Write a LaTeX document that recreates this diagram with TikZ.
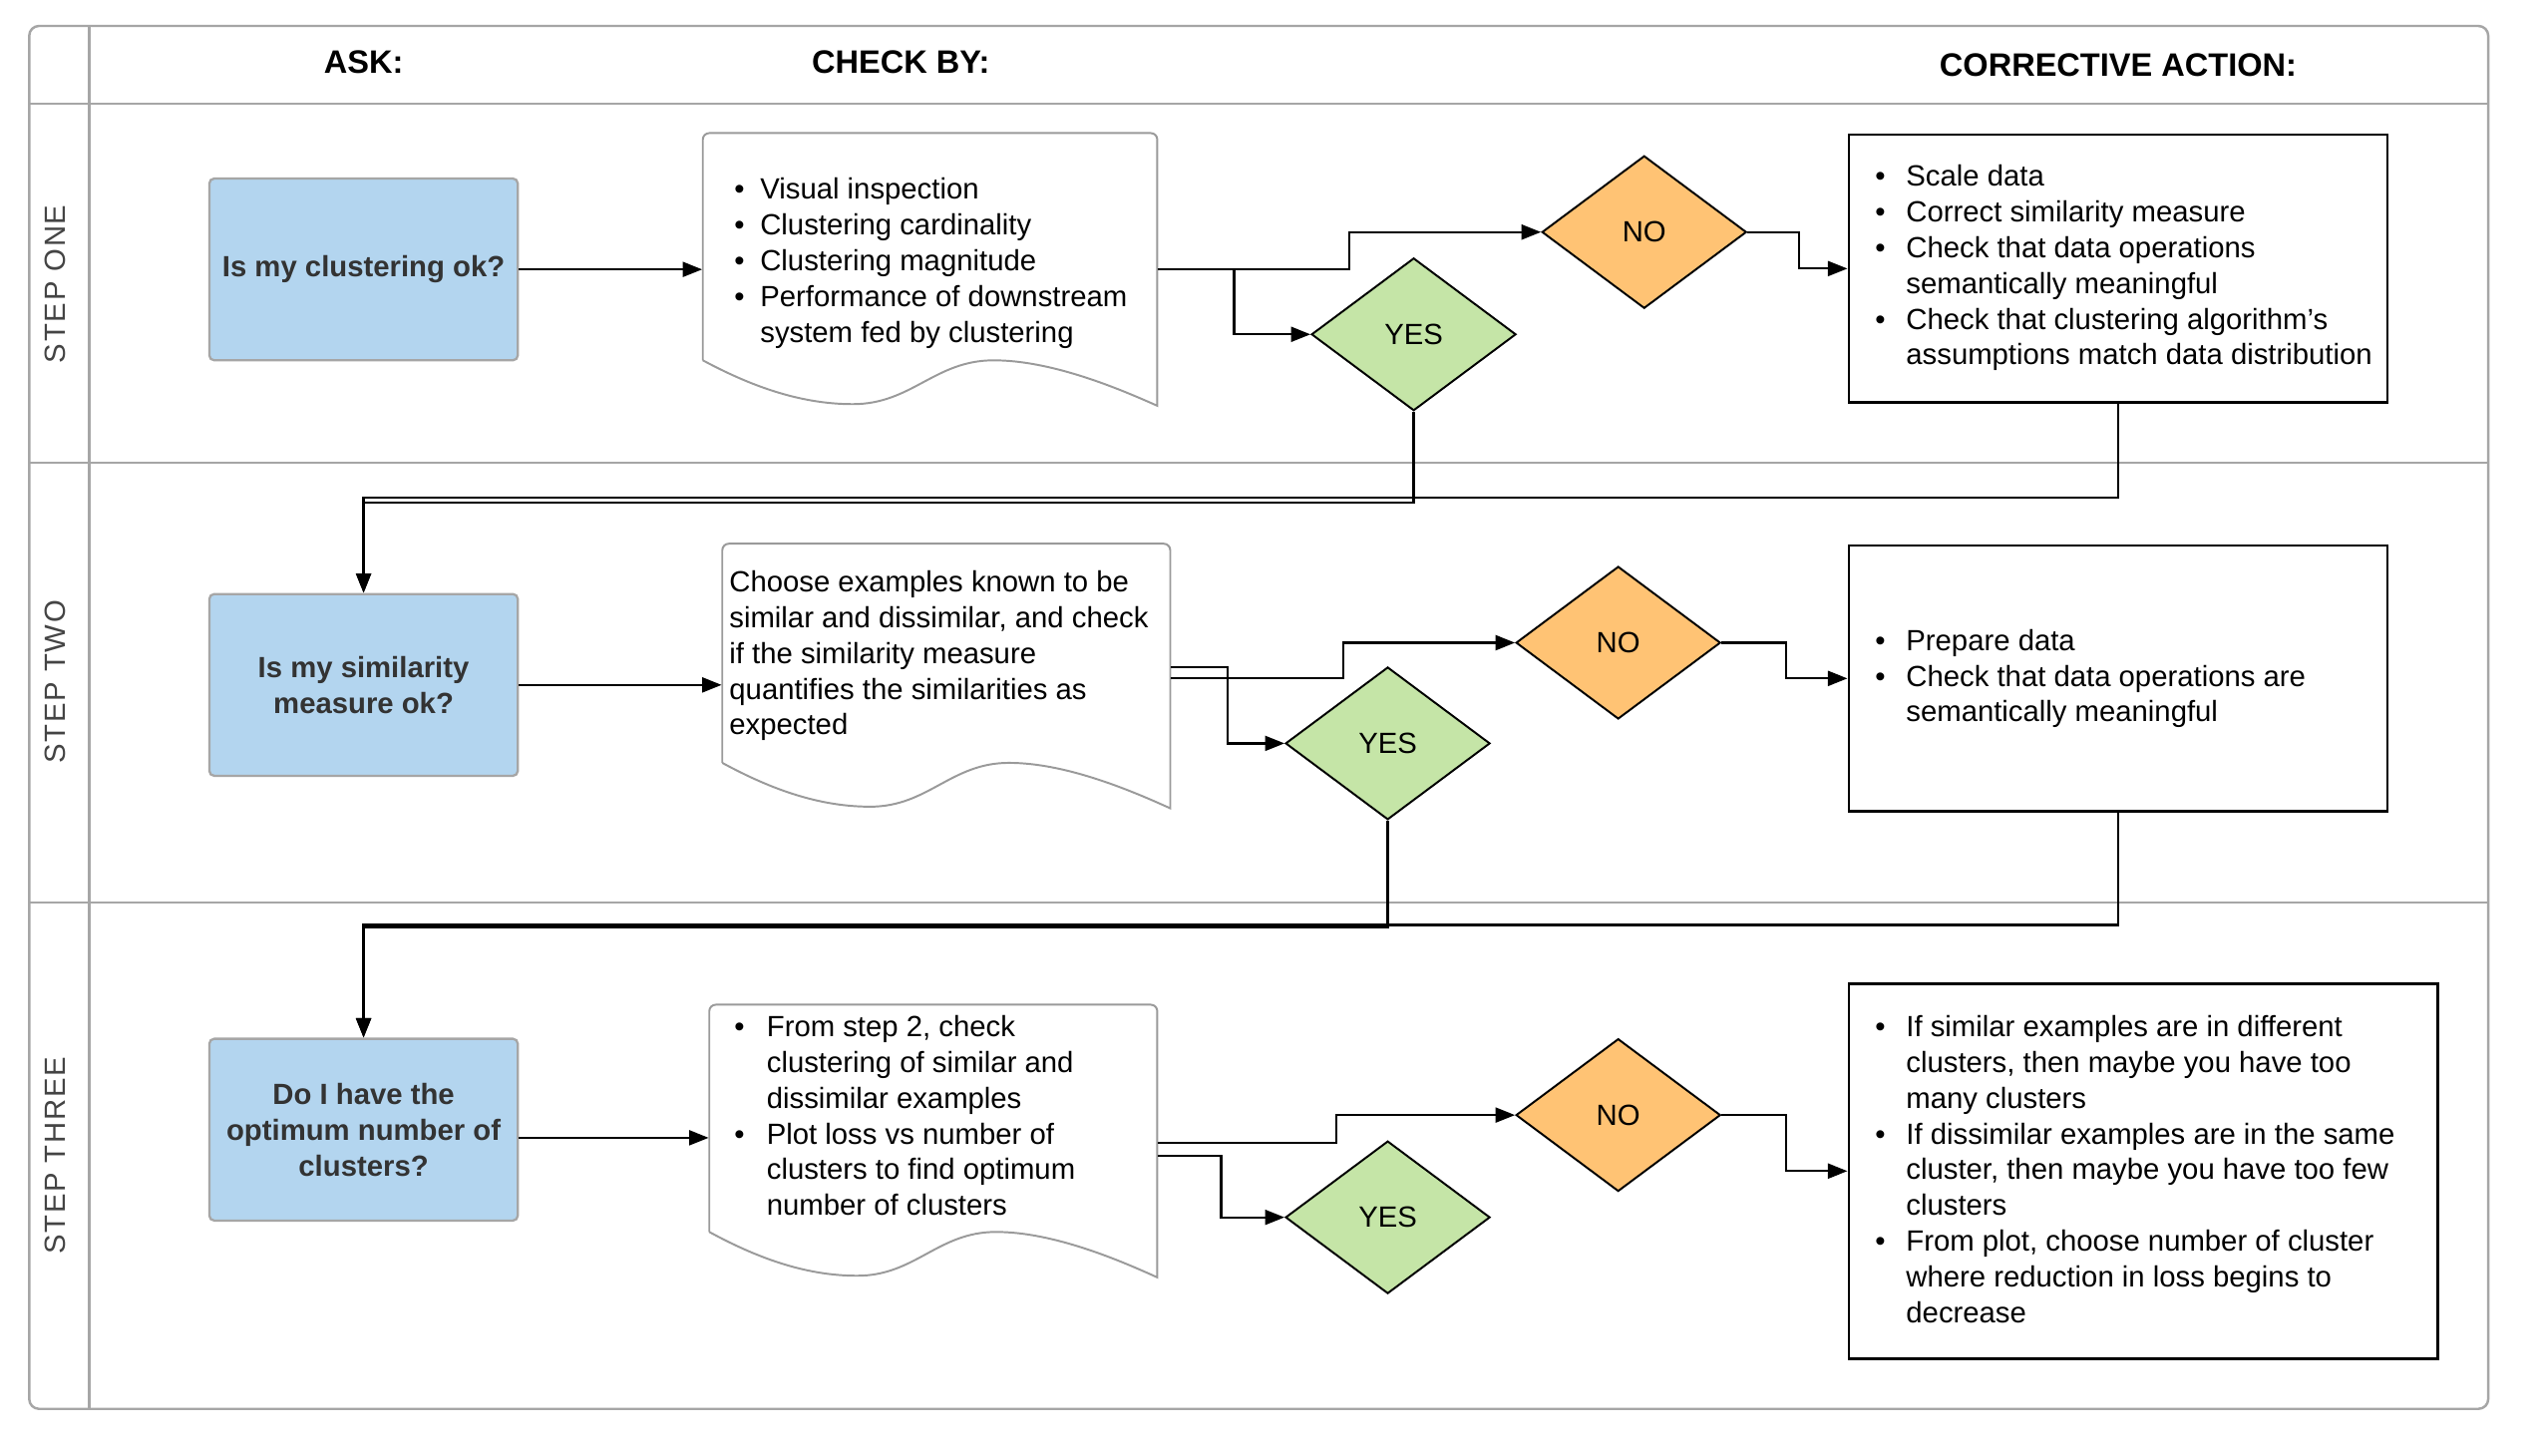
\documentclass[tikz,border=0pt]{standalone}
\usepackage{fontspec}
\setmainfont{Liberation Sans}
\newfontfamily\lanefont[LetterSpace=6]{Liberation Sans}
\usetikzlibrary{arrows.meta,shapes.geometric}
\definecolor{askblue}{HTML}{B3D5EF}
\definecolor{nofill}{HTML}{FFC374}
\definecolor{yesfill}{HTML}{C5E5A7}
\definecolor{framegray}{HTML}{A6A6A6}
\definecolor{docgray}{HTML}{9A9A9A}
\definecolor{asktext}{HTML}{333333}
\definecolor{lanetext}{HTML}{444444}
\newcommand\bu[1][8pt]{\strut\makebox[#1][l]{\textbullet}}
\newcommand\ind[1][8pt]{\strut\hspace*{#1}}
% document shape: x1, ytop, x2, ybottom-left
\newcommand\docshape[4]{%
  \draw[docline] (#1,#4) [rounded corners=2pt] -- (#1,#2) -- (#3,#2) [sharp corners] -- (#3,{#4+28})
    .. controls ({#3-0.08*(#3-#1)},{#4+18}) and ({#1+0.77*(#3-#1)},#4) .. ({#1+0.64*(#3-#1)},#4)
    .. controls ({#1+0.51*(#3-#1)},#4) and ({#1+0.46*(#3-#1)},{#4+27}) .. ({#1+0.33*(#3-#1)},{#4+27})
    .. controls ({#1+0.21*(#3-#1)},{#4+27}) and ({#1+0.1*(#3-#1)},{#4+15}) .. (#1,#4);}
\tikzset{
  frameline/.style={draw=framegray, line width=0.75pt},
  docline/.style={draw=docgray, line width=0.6pt},
  askbox/.style={rectangle, rounded corners=1.5pt, draw=framegray, line width=0.7pt, fill=askblue,
    minimum width=95pt, minimum height=56pt, inner sep=2pt, align=center,
    font=\bfseries\fontsize{9}{11}\selectfont, text=asktext},
  decision/.style={diamond, draw=black, line width=0.6pt, minimum width=63pt, minimum height=47pt,
    inner sep=0pt, font=\fontsize{9}{11}\selectfont},
  nodec/.style={decision, fill=nofill},
  yesdec/.style={decision, fill=yesfill},
  actbox/.style={rectangle, draw=black, line width=0.8pt, inner sep=0pt},
  docnode/.style={rectangle, draw=none, inner sep=0pt},
  txt/.style={anchor=north west, inner sep=0pt, align=left, font=\fontsize{9}{11}\selectfont},
  header/.style={font=\bfseries\fontsize{10}{12}\selectfont, inner sep=0pt},
  lane/.style={rotate=90, font=\lanefont\fontsize{9}{10}\selectfont, text=lanetext, inner sep=0pt},
  conn/.style={draw=black, line width=0.7pt, -{Triangle[length=6pt,width=4.6pt]}},
}
\begin{document}
\begin{tikzpicture}[x=0.5pt, y=-0.5pt]
\useasboundingbox (0,0) rectangle (1568,897);
\fill[white] (0,0) rectangle (1568,897);

% swimlane frame
\draw[frameline, rounded corners=3pt] (18,16) rectangle (1533,868);
\draw[frameline] (55,16) -- (55,868);
\draw[frameline] (18,64) -- (1533,64);
\draw[frameline] (18,285) -- (1533,285);
\draw[frameline] (18,556) -- (1533,556);

% headers
\node[header] (hask) at (224,38) {ASK:};
\node[header] (hcheck) at (555,38) {CHECK BY:};
\node[header] (hact) at (1305,40) {CORRECTIVE ACTION:};

% lane labels
\node[lane] (l1) at (34,175) {STEP ONE};
\node[lane] (l2) at (34,420) {STEP TWO};
\node[lane] (l3) at (34,712) {STEP THREE};

% ---------- STEP ONE ----------
\node[askbox] (b1) at (224,166) {Is my clustering ok?};
\docshape{433}{82}{713}{222}
\node[docnode, minimum width=140pt, minimum height=70pt] (d1) at (573,152) {};
\node[txt] (t1) at (452,107) {\bu Visual inspection\\ \bu Clustering cardinality\\ \bu Clustering magnitude\\ \bu Performance of downstream\\ \ind system fed by clustering};
\node[nodec] (n1) at (1013,143) {NO};
\node[yesdec] (y1) at (871,206) {YES};
\node[actbox, minimum width=166pt, minimum height=82.5pt] (c1) at (1305,165.5) {};
\node[txt] (tc1) at (1155,99) {\bu[9.5pt]Scale data\\ \bu[9.5pt]Correct similarity measure\\ \bu[9.5pt]Check that data operations\\ \ind[9.5pt]semantically meaningful\\ \bu[9.5pt]Check that clustering algorithm’s\\ \ind[9.5pt]assumptions match data distribution};

% ---------- STEP TWO ----------
\node[askbox] (b2) at (224,422) {Is my similarity\\measure ok?};
\docshape{445}{335}{721}{470}
\node[docnode, minimum width=138pt, minimum height=67.5pt] (d2) at (583,402.5) {};
\node[txt] (t2) at (449,349) {\strut Choose examples known to be\\ similar and dissimilar, and check\\ if the similarity measure\\ quantifies the similarities as\\ expected};
\node[nodec] (n2) at (997,396) {NO};
\node[yesdec] (y2) at (855,458) {YES};
\node[actbox, minimum width=166pt, minimum height=82pt] (c2) at (1305,418) {};
\node[txt] (tc2) at (1155,385) {\bu[9.5pt]Prepare data\\ \bu[9.5pt]Check that data operations are\\ \ind[9.5pt]semantically meaningful};

% ---------- STEP THREE ----------
\node[askbox] (b3) at (224,696) {Do I have the\\optimum number of\\clusters?};
\docshape{437}{619}{713}{759}
\node[docnode, minimum width=138pt, minimum height=70pt] (d3) at (575,689) {};
\node[txt] (t3) at (452,623) {\bu[10pt]From step 2, check\\ \ind[10pt]clustering of similar and\\ \ind[10pt]dissimilar examples\\ \bu[10pt]Plot loss vs number of\\ \ind[10pt]clusters to find optimum\\ \ind[10pt]number of clusters};
\node[nodec] (n3) at (997,687) {NO};
\node[yesdec] (y3) at (855,750) {YES};
\node[actbox, minimum width=181.5pt, minimum height=115.5pt] (c3) at (1320.5,721.5) {};
\node[txt] (tc3) at (1155,623) {\bu[9.5pt]If similar examples are in different\\ \ind[9.5pt]clusters, then maybe you have too\\ \ind[9.5pt]many clusters\\ \bu[9.5pt]If dissimilar examples are in the same\\ \ind[9.5pt]cluster, then maybe you have too few\\ \ind[9.5pt]clusters\\ \bu[9.5pt]From plot, choose number of cluster\\ \ind[9.5pt]where reduction in loss begins to\\ \ind[9.5pt]decrease};

% ---------- connectors: step one ----------
\draw[conn] (b1.east) -- (b1.east -| d1.west);
\draw[conn] (d1.east |- b1.east) -- ++(118,0) |- (n1.west);
\draw[conn] (d1.east |- b1.east) -- ++(47,0) |- (y1.west);
\draw[conn] (n1.east) -- ++(32,0) |- (c1.west);
\draw[conn] (y1.south) -- ++(0,56) -| (b2.north);
\draw[conn] (c1.south) -- ++(0,58) -| (b2.north);

% ---------- connectors: step two ----------
\draw[conn] (b2.east) -- (b2.east -| d2.west);
\draw[conn] (d2.east |- 0,418) -- ++(106,0) |- (n2.west);
\draw[conn] (d2.east |- 0,411) -- ++(35,0) |- (y2.west);
\draw[conn] (n2.east) -- ++(40,0) |- (c2.west);
\draw[conn] (y2.south) -- ++(0,66) -| (b3.north);
\draw[conn] (c2.south) -- ++(0,69) -| (b3.north);

% ---------- connectors: step three ----------
\draw[conn] (b3.east |- 0,701) -- (d3.west |- 0,701);
\draw[conn] (d3.east |- 0,704) -- ++(110,0) |- (n3.west);
\draw[conn] (d3.east |- 0,712) -- ++(39,0) |- (y3.west);
\draw[conn] (n3.east) -- ++(40,0) |- (c3.west);
\end{tikzpicture}
\end{document}
